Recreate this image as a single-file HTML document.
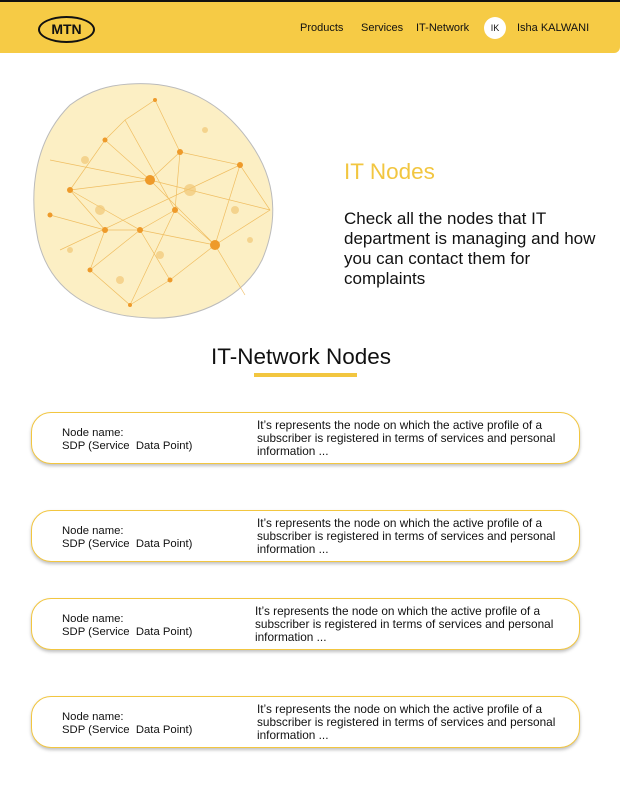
<!DOCTYPE html>
<html><head><meta charset="utf-8"><style>
*{margin:0;padding:0;box-sizing:border-box}
body{width:620px;height:794px;background:#fff;font-family:"Liberation Sans",sans-serif;position:relative;overflow:hidden;color:#111}
.hdr{position:absolute;left:0;top:0;width:620px;height:53px;background:#F6CB45;border-top:2px solid #111;border-bottom-right-radius:6px}
.logo{position:absolute;left:38px;top:14px;width:57px;height:27px;border:2.5px solid #111;border-radius:50%;font-weight:bold;font-size:14px;text-align:center;line-height:22px}
.nav{position:absolute;top:20px;font-size:11px}
.av{position:absolute;left:484px;top:15px;width:22px;height:22px;border-radius:50%;background:#fff;font-size:9px;text-align:center;line-height:22px}
.card{position:absolute;left:31px;width:549px;height:52px;border:1.5px solid #F2C640;border-radius:20px;box-shadow:0 2px 3px rgba(0,0,0,.25);background:#fff;font-size:11.8px;line-height:13px}
.card .a{position:absolute;left:30px;top:14px;font-size:11.3px}
.card .b{position:absolute;left:225px;top:6px;width:320px}
</style></head><body>
<div class="hdr">
<div class="logo">MTN</div>
<div class="nav" style="left:300px">Products</div>
<div class="nav" style="left:361px">Services</div>
<div class="nav" style="left:416px">IT-Network</div>
<div class="av">IK</div>
<div class="nav" style="left:517px">Isha KALWANI</div>
</div>
<svg style="position:absolute;left:30px;top:80px" width="250" height="242">
<path d="M100 4 C160 0 200 30 225 70 C250 110 245 150 232 180 C215 215 170 240 120 238 C60 236 20 210 8 160 C-2 110 5 60 40 25 C60 10 80 5 100 4Z" fill="#FCEFC4" stroke="#bbb" stroke-width="1"/>
<g stroke="#EDB24A" stroke-width="0.7" fill="none" opacity="0.8">
<path d="M40 110 L120 100 L185 165 L110 150 L40 110 L75 150 L110 150 L145 130 L185 165 L210 85 L150 72 L120 100 L75 60 L40 110"/>
<path d="M75 150 L60 190 L100 225 L140 200 L185 165 L215 215 M150 72 L125 20 L95 40 L75 60 M210 85 L240 130 L185 165 M20 135 L75 150 M145 130 L150 72 M60 190 L110 150 L140 200"/>
<path d="M20 80 L120 100 L240 130 M30 170 L210 85 M95 40 L145 130 L100 225"/>
</g>
<g fill="#EE9A2A">
<circle cx="120" cy="100" r="5"/><circle cx="185" cy="165" r="5"/><circle cx="110" cy="150" r="3"/><circle cx="40" cy="110" r="3"/><circle cx="75" cy="150" r="3"/><circle cx="145" cy="130" r="3"/><circle cx="210" cy="85" r="3"/><circle cx="150" cy="72" r="3"/><circle cx="75" cy="60" r="2.5"/><circle cx="60" cy="190" r="2.5"/><circle cx="140" cy="200" r="2.5"/><circle cx="20" cy="135" r="2.5"/><circle cx="100" cy="225" r="2"/><circle cx="125" cy="20" r="2"/>
</g>
<g fill="#F2C877" opacity="0.7">
<circle cx="160" cy="110" r="6"/><circle cx="70" cy="130" r="5"/><circle cx="205" cy="130" r="4"/><circle cx="90" cy="200" r="4"/><circle cx="55" cy="80" r="4"/><circle cx="175" cy="50" r="3"/><circle cx="130" cy="175" r="4"/><circle cx="40" cy="170" r="3"/><circle cx="220" cy="160" r="3"/>
</g>
</svg>
<div style="position:absolute;left:344px;top:159px;font-size:22.5px;color:#F2C640">IT Nodes</div>
<div style="position:absolute;left:344px;top:209px;width:262px;font-size:17px;line-height:20px">Check all the nodes that IT department is managing and how you can contact them for complaints</div>
<div style="position:absolute;left:0;width:602px;top:344px;text-align:center;font-size:22.5px">IT-Network Nodes</div>
<div style="position:absolute;left:254px;top:373px;width:103px;height:4px;background:#F2C640"></div>
<div class="card" style="top:412px"><div class="a">Node name:<br>SDP (Service&nbsp; Data Point)</div><div class="b">It’s represents the node on which the active profile of a subscriber is registered in terms of services and personal information ...</div></div>
<div class="card" style="top:510px"><div class="a">Node name:<br>SDP (Service&nbsp; Data Point)</div><div class="b">It’s represents the node on which the active profile of a subscriber is registered in terms of services and personal information ...</div></div>
<div class="card" style="top:598px"><div class="a">Node name:<br>SDP (Service&nbsp; Data Point)</div><div class="b" style="left:223px">It’s represents the node on which the active profile of a subscriber is registered in terms of services and personal information ...</div></div>
<div class="card" style="top:696px"><div class="a">Node name:<br>SDP (Service&nbsp; Data Point)</div><div class="b">It’s represents the node on which the active profile of a subscriber is registered in terms of services and personal information ...</div></div>
</body></html>
